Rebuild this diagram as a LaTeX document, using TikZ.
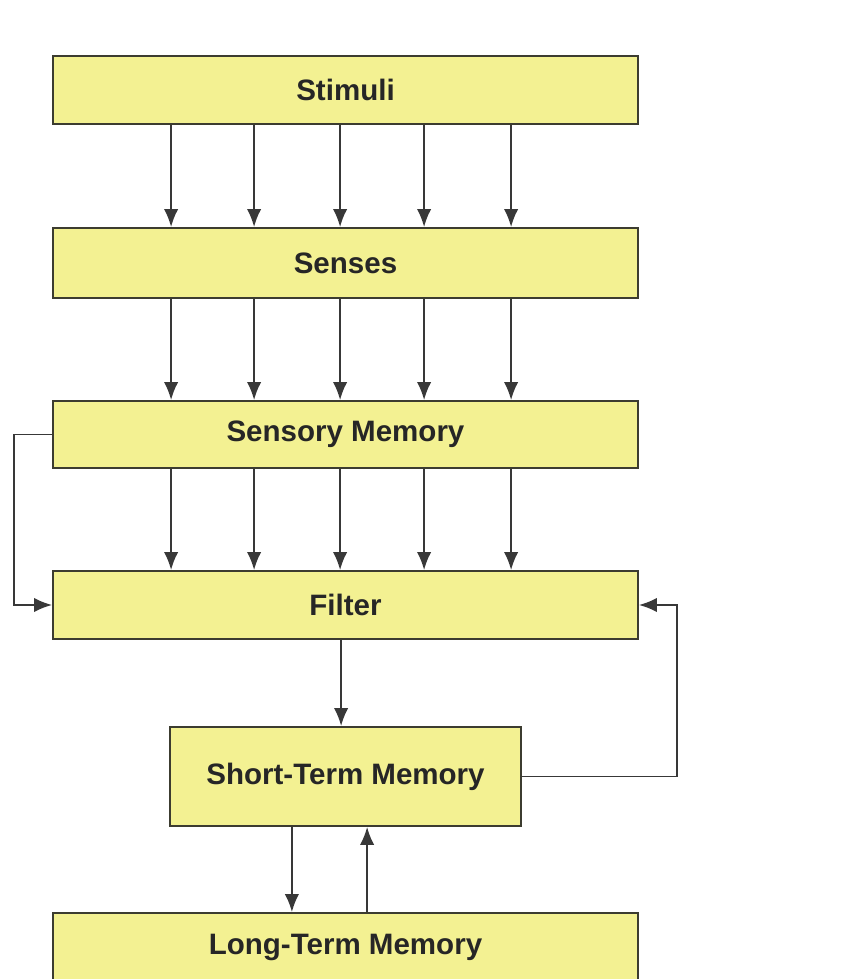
\documentclass[tikz,border=0pt]{standalone}
\usepackage{fontspec}
\setmainfont{Liberation Sans}
\usepackage{tikz}
\usetikzlibrary{calc, arrows.meta}
\definecolor{boxfill}{RGB}{243,241,146}
\definecolor{boxline}{RGB}{60,60,48}
\tikzset{
  stage/.style={draw=boxline, line width=1.3pt, fill=boxfill, inner sep=0pt,
    minimum height=1.7cm, font=\fontsize{21}{25}\selectfont\bfseries, text=black!85},
  wide/.style={stage, minimum width=14.625cm},
  flow/.style={-{Latex[length=0.45cm,width=0.36cm]}, line width=1.4pt, draw=black!78}
}

\begin{document}
\begin{tikzpicture}
\useasboundingbox (0,0) rectangle (21.075,24.475);
\node[wide] (stim) at (8.6375,22.225) {Stimuli};
\node[wide, minimum height=1.75cm] (sens) at (8.6375,17.9) {Senses};
\node[wide, minimum height=1.675cm] (smem) at (8.6375,13.6125) {Sensory Memory};
\node[wide] (filt) at (8.6375,9.35) {Filter};
\node[stage, minimum width=8.775cm, minimum height=2.475cm] (stm) at (8.6375,5.0625) {Short-Term Memory};
\node[wide] (ltm) at (8.6375,0.8) {Long-Term Memory};
\foreach \x in {2.975,5.05,7.2,9.3,11.475} {
  \draw[flow] ($(stim.south west)+(\x,0)$) -- ($(sens.north west)+(\x,0)$);
  \draw[flow] ($(sens.south west)+(\x,0)$) -- ($(smem.north west)+(\x,0)$);
  \draw[flow] ($(smem.south west)+(\x,0)$) -- ($(filt.north west)+(\x,0)$);
}
\draw[flow] ([xshift=-0.11cm]filt.south) -- ([xshift=-0.11cm]stm.north);
\draw[flow] (smem.west) -- ++(-0.95,0) |- (filt.west);
\draw[flow] (stm.east) -- ++(3.875,0) |- (filt.east);
\draw[flow] ([xshift=-1.34cm]stm.south) -- ([xshift=-1.34cm]stm.south |- ltm.north);
\draw[flow] ([xshift=0.54cm]stm.south |- ltm.north) -- ([xshift=0.54cm]stm.south);
\end{tikzpicture}
\end{document}
